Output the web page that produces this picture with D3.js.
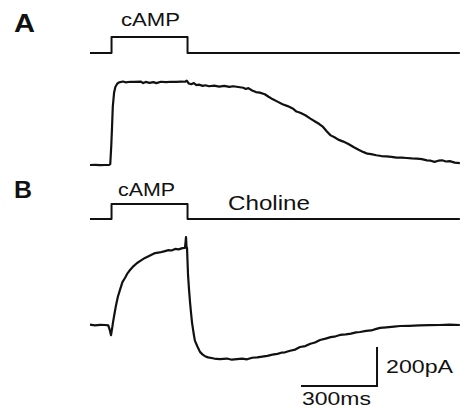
<!DOCTYPE html>
<html><head><meta charset="utf-8">
<script src="https://cdn.jsdelivr.net/npm/d3@7"></script>
<style>body{margin:0;background:#fff}svg{display:block}text{font-family:"Liberation Sans",Arial,sans-serif;fill:#111}</style>
</head><body><svg id="c" width="460" height="408"></svg>
<script>
// time in ms, current in pA
const pulseOn = 85, pulseOff = 385, tEnd = 1460;
const stimTimes = [0, pulseOn, pulseOn, pulseOff, pulseOff, tEnd];
const stimLevels = [0, 0, 1, 1, 0, 0];

const timeA = [0,20,40,60,75,80,84,87,90,95,100,108,115,130,140,160,175,200,210,220,235,250,262,280,300,320,340,360,375,382,390,400,410,420,430,445,455,470,490,510,530,550,565,585,605,615,625,640,655,670,690,705,720,740,760,780,800,815,830,850,870,890,905,920,935,950,965,980,1000,1020,1040,1060,1080,1095,1110,1130,1150,1170,1190,1210,1230,1250,1270,1290,1310,1330,1345,1360,1375,1390,1405,1420,1440,1460];
const currentA = [0,1,-1,0,0,5,100,195,300,370,400,418,424,428,424,427,426,428,420,426,421,425,420,427,425,427,426,428,427,432,418,414,420,410,412,406,409,404,407,402,406,401,404,400,396,390,394,382,374,371,363,350,338,325,312,302,290,274,268,255,238,222,210,195,172,152,142,130,120,108,92,78,66,58,56,50,46,44,42,38,38,36,34,33,30,24,22,16,22,24,18,20,12,10];

const timeB = [0,20,40,60,72,78,83,87,91,97,103,110,118,128,138,148,158,172,186,200,217,235,257,275,296,310,322,336,350,365,375,379,381,383,387,391,395,399,403,410,414,424,434,445,454,466,490,513,540,560,580,600,620,640,660,680,700,720,740,755,770,790,810,829,850,870,888,908,930,950,970,987,1010,1030,1050,1066,1090,1110,1130,1145,1170,1200,1224,1260,1300,1340,1380,1420,1460];
const currentB = [2,-2,1,0,-2,-25,-52,-20,15,60,103,145,179,220,241,265,282,302,318,330,344,355,369,372,379,384,382,390,388,394,395,451,400,395,256,180,115,60,10,-50,-80,-110,-138,-152,-160,-166,-172,-175,-172,-178,-175,-172,-176,-168,-166,-162,-158,-152,-148,-142,-140,-132,-126,-113,-108,-96,-90,-77,-70,-62,-58,-51,-48,-44,-38,-36,-30,-28,-20,-15,-12,-8,-5,-4,-2,-1,0,2,0];

const panelLabels = ["A", "B"];
const stimLabel = "cAMP";
const cholineLabel = "Choline";
const scaleTime = 300, scalePA = 200;
const scaleTimeLabel = "300ms", scalePALabel = "200pA";

const svg = d3.select("#c");
const x = d3.scaleLinear().domain([0, tEnd]).range([90, 90 + tEnd * 76 / 300]);
const pxPerPA = 39 / 200;
const yA = d3.scaleLinear().domain([0, 200]).range([165, 165 - 200 * pxPerPA]);
const yB = d3.scaleLinear().domain([0, 200]).range([325, 325 - 200 * pxPerPA]);
const ysA = d3.scaleLinear().domain([0, 1]).range([53, 37]);
const ysB = d3.scaleLinear().domain([0, 1]).range([219, 204]);

const stroke = "#111";
function drawLine(ts, vs, yS, w) {
  const line = d3.line().x((d, i) => x(ts[i])).y((d, i) => yS(vs[i]));
  svg.append("path").datum(vs).attr("d", line).attr("fill", "none")
    .attr("stroke", stroke).attr("stroke-width", w).attr("stroke-linejoin", "round");
}
drawLine(stimTimes, stimLevels, ysA, 2);
drawLine(stimTimes, stimLevels, ysB, 2);
drawLine(timeA, currentA, yA, 2.2);
drawLine(timeB, currentB, yB, 2.2);

function txt(s, px, py, size, len, bold) {
  const t = svg.append("text").attr("x", px).attr("y", py).attr("font-size", size).text(s);
  if (bold) t.attr("font-weight", "bold");
  if (len) t.attr("textLength", len).attr("lengthAdjust", "spacingAndGlyphs");
  return t;
}
txt(panelLabels[0], 14, 31.5, 25, 21, true);
txt(panelLabels[1], 14, 198, 24, 18, true);
txt(stimLabel, 121, 26, 18, 59);
txt(stimLabel, 118, 196, 18, 57);
txt(cholineLabel, 228, 210, 20, 82);

// scale bar
const sbT1 = 1133, sbT0 = sbT1 - scaleTime;
const sbP0 = -313, sbP1 = sbP0 + scalePA;
svg.append("path").attr("fill", "none").attr("stroke", stroke).attr("stroke-width", 2)
  .attr("d", `M${x(sbT0)},${yB(sbP0)}H${x(sbT1)}V${yB(sbP1)}`);
txt(scalePALabel, 386, 372.7, 19, 67);
txt(scaleTimeLabel, 302, 405, 18.5, 69);
</script></body></html>
